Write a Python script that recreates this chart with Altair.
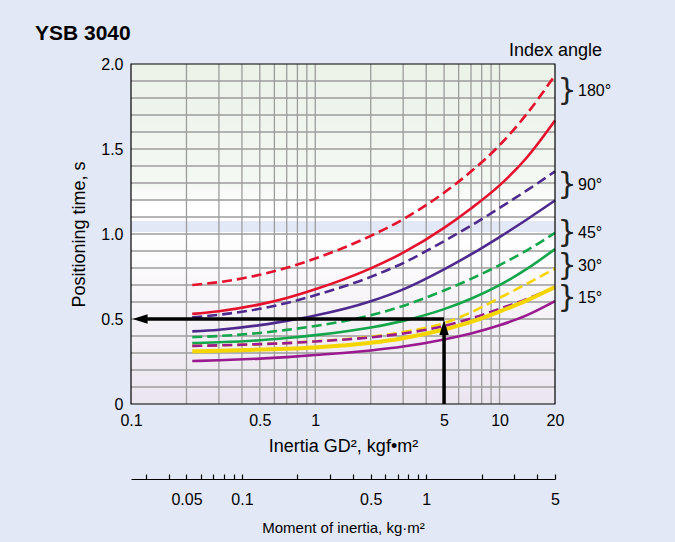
import altair as alt
import pandas as pd

FONT = "Liberation Sans"

# ---------------- data ----------------
inertia = [0.215, 0.3, 0.5, 0.7, 1, 2, 3, 5, 7, 10, 14, 20]  # GD^2, kgf·m^2

red_dashed = [0.70, 0.717, 0.760, 0.801, 0.856, 0.989, 1.087, 1.243, 1.367, 1.522, 1.704, 1.934]
red_solid = [0.53, 0.546, 0.586, 0.624, 0.675, 0.798, 0.890, 1.036, 1.150, 1.286, 1.447, 1.667]
purple_dashed = [0.51, 0.525, 0.560, 0.594, 0.640, 0.748, 0.829, 0.958, 1.049, 1.153, 1.255, 1.368]
purple_solid = [0.427, 0.437, 0.464, 0.489, 0.520, 0.604, 0.674, 0.792, 0.880, 0.982, 1.084, 1.197]
green_dashed = [0.393, 0.400, 0.418, 0.436, 0.459, 0.522, 0.577, 0.668, 0.736, 0.817, 0.902, 1.007]
green_solid = [0.358, 0.363, 0.375, 0.388, 0.405, 0.450, 0.489, 0.558, 0.619, 0.699, 0.793, 0.911]
yellow_dashed = [0.342, 0.345, 0.352, 0.359, 0.369, 0.396, 0.423, 0.476, 0.539, 0.624, 0.706, 0.797]
magenta_dashed = [0.342, 0.345, 0.352, 0.358, 0.368, 0.392, 0.415, 0.459, 0.503, 0.560, 0.617, 0.685]
yellow_solid = [0.31, 0.313, 0.320, 0.325, 0.333, 0.360, 0.387, 0.438, 0.483, 0.544, 0.608, 0.688]
magenta_solid = [0.253, 0.257, 0.267, 0.276, 0.288, 0.315, 0.338, 0.380, 0.415, 0.463, 0.521, 0.605]

# drawing order, colour, dashed?, width
series = [
    ("red_dashed", red_dashed, "#e5122d", True, 2.6),
    ("red_solid", red_solid, "#e5122d", False, 2.6),
    ("purple_dashed", purple_dashed, "#4e2a8e", True, 2.6),
    ("purple_solid", purple_solid, "#4e2a8e", False, 2.6),
    ("green_dashed", green_dashed, "#14a64a", True, 2.6),
    ("green_solid", green_solid, "#14a64a", False, 2.6),
    ("yellow_dashed", yellow_dashed, "#f5d500", True, 2.6),
    ("magenta_dashed", magenta_dashed, "#9a1b8f", True, 2.6),
    ("yellow_solid", yellow_solid, "#f5d500", False, 4.0),
    ("magenta_solid", magenta_solid, "#9a1b8f", False, 2.6),
]

angle_labels = ["180°", "90°", "45°", "30°", "15°"]
angle_y = [1.84, 1.287, 1.006, 0.811, 0.624]

x_grid = [0.2, 0.3, 0.4, 0.5, 0.6, 0.7, 0.8, 0.9, 1, 2, 3, 4, 5, 6, 7, 8, 9, 10]
y_grid = [0.1, 0.2, 0.3, 0.4, 0.5, 0.6, 0.7, 0.8, 0.9, 1.0,
          1.1, 1.2, 1.3, 1.4, 1.5, 1.6, 1.7, 1.8, 1.9]
x_labels = [0.1, 0.5, 1, 5, 10, 20]
y_labels = [0, 0.5, 1.0, 1.5, 2.0]

moment_ticks = [0.03, 0.04, 0.05, 0.06, 0.07, 0.08, 0.09, 0.1,
                0.2, 0.3, 0.4, 0.5, 0.6, 0.7, 0.8, 0.9, 1, 2, 3, 4, 5]
moment_labels = [0.05, 0.1, 0.5, 1, 5]

# example reading (arrows)
h_arrow = {"x1": [0.112], "x2": [5], "y": [0.5]}
v_arrow = {"x": [5], "y1": [0], "y2": [0.45]}

# ---------------- scales / axes ----------------
xs = alt.Scale(type="log", domain=[0.1, 20], nice=False)
ys = alt.Scale(domain=[0, 2], nice=False, zero=False)

xaxis = alt.Axis(values=x_labels, format="~g", grid=False, ticks=False, domain=False,
                 labelFontSize=16, labelPadding=8, labelFlush=False, labelColor="black",
                 title="Inertia GD², kgf•m²", titleFontSize=18, titleFontWeight="normal",
                 titlePadding=9, titleColor="black", zindex=1)
yaxis = alt.Axis(values=y_labels,
                 labelExpr="datum.value == 0 ? '0' : format(datum.value, '.1f')",
                 grid=False, ticks=False, domain=False, labelFontSize=16, labelPadding=8,
                 labelColor="black", title="Positioning time, s", titleFontSize=18,
                 titleFontWeight="normal", titlePadding=12, titleColor="black", zindex=1)


def X(f):
    return alt.X(f, type="quantitative", scale=xs, axis=xaxis)


def Y(f):
    return alt.Y(f, type="quantitative", scale=ys, axis=yaxis)


layers = []

# plot background gradient
grad = alt.LinearGradient(
    gradient="linear", x1=0, x2=0, y1=0, y2=1,
    stops=[
        alt.GradientStop(offset=0.0, color="#ebf2e8"),
        alt.GradientStop(offset=0.36, color="#f4f8f3"),
        alt.GradientStop(offset=0.42, color="#ffffff"),
        alt.GradientStop(offset=0.4625, color="#ffffff"),
        alt.GradientStop(offset=0.4625, color="#e2e8f5"),
        alt.GradientStop(offset=0.495, color="#e2e8f5"),
        alt.GradientStop(offset=0.495, color="#ffffff"),
        alt.GradientStop(offset=1.0, color="#ebe5ef"),
    ],
)
bg = pd.DataFrame({"x0": [0.1], "x1": [20], "y0": [0], "y1": [2]})
layers.append(alt.Chart(bg).mark_rect(fill=grad).encode(
    x=X("x0"), x2=alt.X2("x1"), y=Y("y0"), y2=alt.Y2("y1")))

# grid
layers.append(alt.Chart(pd.DataFrame({"gx": x_grid})).mark_rule(
    color="#9c9c9c", strokeWidth=1.3).encode(x=X("gx")))
layers.append(alt.Chart(pd.DataFrame({"gy": y_grid})).mark_rule(
    color="#9c9c9c", strokeWidth=1.3).encode(y=Y("gy")))

# curves
for name, vals, col, dashed, w in series:
    df = pd.DataFrame({"J": inertia, "t": vals})
    kw = dict(color=col, strokeWidth=w, interpolate="monotone")
    if dashed:
        kw["strokeDash"] = [10, 5]
    layers.append(alt.Chart(df).mark_line(**kw).encode(x=X("J"), y=Y("t")))

# arrows
layers.append(alt.Chart(pd.DataFrame(h_arrow)).mark_rule(color="black", strokeWidth=3.5).encode(
    x=X("x1"), x2=alt.X2("x2"), y=Y("y")))
layers.append(alt.Chart(pd.DataFrame(v_arrow)).mark_rule(color="black", strokeWidth=3.5).encode(
    x=X("x"), y=Y("y1"), y2=alt.Y2("y2")))
layers.append(alt.Chart(pd.DataFrame({"x": h_arrow["x1"], "y": h_arrow["y"]})).mark_point(
    shape="M-1,0L1,-0.62L1,0.62Z", size=225, filled=True, color="black", opacity=1,
    strokeWidth=0).encode(x=X("x"), y=Y("y")))
layers.append(alt.Chart(pd.DataFrame({"x": v_arrow["x"], "y": v_arrow["y2"]})).mark_point(
    shape="M0,-1L0.62,1L-0.62,1Z", size=225, filled=True, color="black", opacity=1,
    strokeWidth=0).encode(x=X("x"), y=Y("y")))

# frame
layers.append(alt.Chart(bg).mark_rect(fill="transparent", stroke="black", strokeWidth=1.2).encode(
    x=X("x0"), x2=alt.X2("x1"), y=Y("y0"), y2=alt.Y2("y1")))

# angle braces and labels
ang = pd.DataFrame({"lab": angle_labels, "ay": angle_y, "br": ["}"] * len(angle_labels)})
layers.append(alt.Chart(ang).mark_text(fontSize=30, align="center", baseline="middle",
                                       color="#222222", font="DejaVu Sans").encode(
    x=alt.value(436), y=Y("ay"), text="br:N"))
layers.append(alt.Chart(ang).mark_text(fontSize=16, align="left", baseline="middle",
                                       color="black").encode(
    x=alt.value(447), y=Y("ay"), text="lab:N"))

# title & legend header
layers.append(alt.Chart(pd.DataFrame({"t": ["YSB 3040"]})).mark_text(
    fontSize=21, fontWeight="bold", align="left", baseline="alphabetic", color="black").encode(
    x=alt.value(-96), y=alt.value(-24), text="t:N"))
layers.append(alt.Chart(pd.DataFrame({"t": ["Index angle"]})).mark_text(
    fontSize=18, align="right", baseline="alphabetic", color="black").encode(
    x=alt.value(471), y=alt.value(-8), text="t:N"))

main = alt.layer(*layers)

# secondary axis: moment of inertia kg·m² (= GD²/4)
sec_axis = alt.Axis(
    orient="top", offset=-415, values=moment_ticks,
    labelExpr="indexof([0.05, 0.1, 0.5, 1, 5], datum.value) >= 0 ? format(datum.value, '~g') : ''",
    tickSize=5, tickColor="black", tickWidth=1.2, domainColor="black", domainWidth=1.2,
    labelFontSize=16, labelPadding=-17, labelBaseline="top", labelFlush=False,
    labelOverlap=False, labelColor="black", grid=False,
    title="Moment of inertia, kg·m²", titleFontSize=15, titleFontWeight="normal",
    titleBaseline="middle", titleY=48, titleX=212, titleColor="black", zindex=1)
sec = alt.Chart(pd.DataFrame({"m": [0.025, 5]})).mark_point(opacity=0).encode(
    x=alt.X("m:Q", scale=alt.Scale(type="log", domain=[0.025, 5], nice=False), axis=sec_axis))

chart = alt.layer(main, sec).resolve_scale(x="independent").properties(
    width=424, height=340,
    padding={"left": 131, "top": 64, "right": 120, "bottom": 138},
    autosize=alt.AutoSizeParams(type="none"),
    background="#e2e8f5",
).configure(font=FONT).configure_view(stroke="transparent")

chart.save("out.html", embed_options={"renderer": "svg", "actions": False})
